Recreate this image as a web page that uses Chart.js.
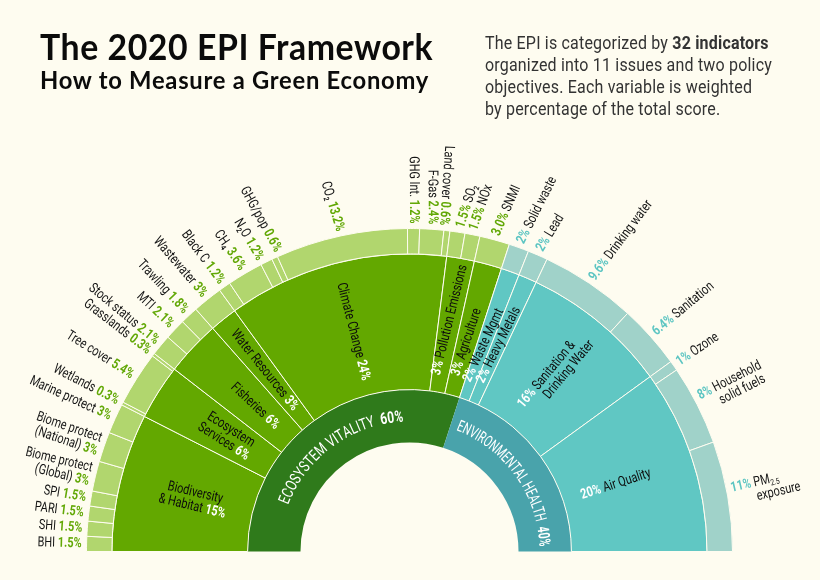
<!DOCTYPE html>
<html>
<head>
<meta charset="utf-8">
<script src="https://cdn.jsdelivr.net/npm/chart.js@4"></script>
<style>
    html, body { margin: 0; padding: 0; background: #fefcf0; }
    #page { position: relative; width: 820px; height: 580px; overflow: hidden; }
    canvas { position: absolute; left: 0; top: 0; }
    .head { position: absolute; white-space: nowrap; color: #0b0b0b; transform-origin: left top; }
    #title { left: 40px; top: 23px; font: 700 37px "Lato"; letter-spacing: 0.6px; transform: scaleX(0.914); }
    #subtitle { left: 40px; top: 65px; font: 700 24px "Lato"; letter-spacing: 0.75px; transform: scaleX(0.99); }
    #note { left: 485px; top: 32px; font: 400 17.5px/22px "Roboto"; color: #333; letter-spacing: 0.2px; transform: scaleX(0.915); }
    #note b { font-weight: 700; }
</style>
</head>
<body>
<div id="page">
    <canvas id="epi" width="820" height="580"></canvas>
    <div class="head" id="title">The 2020 EPI Framework</div>
    <div class="head" id="subtitle">How to Measure a Green Economy</div>
    <div class="head" id="note">The EPI is categorized by <b>32 indicators</b><br>organized into 11 issues and two policy<br>objectives. Each variable is weighted<br>by percentage of the total score.</div>
</div>
<script>
var pillars = ['ECOSYSTEM VITALITY', 'ENVIRONMENTAL HEALTH'];
var pillarValues = [60, 40];

var issues = ['Biodiversity\n& Habitat', 'Ecosystem\nServices', 'Fisheries', 'Water Resources', 'Climate Change',
    'Pollution Emissions', 'Agriculture', 'Waste Mgmt', 'Heavy Metals', 'Sanitation &\nDrinking Water', 'Air Quality'];
var issueValues = [15, 6, 6, 3, 24, 3, 3, 2, 2, 16, 20];

var indicators = ['BHI', 'SHI', 'PARI', 'SPI', 'Biome protect\n(Global)', 'Biome protect\n(National)', 'Marine protect',
    'Wetlands', 'Tree cover', 'Grasslands', 'Stock status', 'MTI', 'Trawling', 'Wastewater', 'Black C', 'CH₄', 'N₂O',
    'GHG/pop', 'CO₂', 'GHG Int.', 'F-Gas', 'Land cover', 'SO₂', 'NOx', 'SNMI', 'Solid waste', 'Lead', 'Drinking water',
    'Sanitation', 'Ozone', 'Household\nsolid fuels', 'PM_2.5\nexposure'];
var indicatorValues = [1.5, 1.5, 1.5, 1.5, 3, 3, 3, 0.3, 5.4, 0.3, 2.1, 2.1, 1.8, 3, 1.2, 3.6, 1.2, 0.6, 13.2, 1.2, 2.4,
    0.6, 1.5, 1.5, 3, 2, 2, 9.6, 6.4, 1, 8, 11];
var indicatorText = indicatorValues.map(function (v) { return v + '%'; });
indicatorText[24] = '3.0%';

// how many items of each ring belong to the first pillar
var greenIssues = 7;
var greenIndicators = 25;

// distance of the mid ring labels from the centre
var issueRadius = [222, 216, 212, 232, 227, 235, 217, 219, 225, 230, 217];

// the crowded labels are not quite radial in the original, degrees off the radius
var issueTurn = { 'Pollution Emissions': 4, 'Agriculture': 3, 'Waste Mgmt': 5, 'Heavy Metals': 3 };
var indicatorTurn = {
    'Wastewater': -2, 'Black C': -2, 'CH₄': -4, 'N₂O': -4, 'GHG/pop': -4, 'CO₂': -5, 'GHG Int.': -1, 'F-Gas': -4,
    'Land cover': -3, 'SO₂': 9, 'NOx': 8, 'SNMI': 8, 'Solid waste': 7, 'Lead': 8, 'Drinking water': 3, 'Sanitation': 2,
    'Ozone': 1, 'PM_2.5\nexposure': -3
};
// and these are pushed apart along the rim, degrees
var indicatorShift = { 'N₂O': -0.8, 'GHG/pop': 1, 'Land cover': -0.7, 'SO₂': 0.4 };

// no narrow font installed, so the text is squeezed sideways
var squeeze = 0.78;
var nameFont = '14px "Roboto"';
var valueFont = 'bold 14px "Roboto"';
var pillarFont = '16px "Roboto"';

function pick(green, teal, limit) {
    return function (c) { return c.dataIndex < limit ? green : teal; };
}

// a name like PM_2.5 gets a small lowered part
function pieces(text, color) {
    var parts = text.split('_');
    var res = [{ t: parts[0], font: nameFont, color: color, dy: 0 }];
    if (parts[1]) res.push({ t: parts[1], font: '8.5px "Roboto"', color: color, dy: 4 });
    return res;
}

function widthOf(ctx, line) {
    var w = 0;
    line.forEach(function (p) { ctx.font = p.font; w += ctx.measureText(p.t).width * squeeze; });
    return w;
}

function drawLine(ctx, line, x, y) {
    line.forEach(function (p) {
        ctx.font = p.font;
        ctx.fillStyle = p.color;
        ctx.save();
        ctx.translate(x, y + p.dy);
        ctx.scale(squeeze, 1);
        ctx.fillText(p.t, 0, 0);
        ctx.restore();
        x += ctx.measureText(p.t).width * squeeze;
    });
}

// text along a ring, top of the letters pointing away from the centre, fitted to a fixed length
function drawCurved(ctx, arc, parts, r, length) {
    var total = 0;
    parts.forEach(function (p) {
        ctx.font = p.font;
        total += ctx.measureText(p.t).width;
    });
    var fit = length / total;
    var a = (arc.startAngle + arc.endAngle) / 2 - length / 2 / r;
    ctx.textAlign = 'center';
    parts.forEach(function (p) {
        ctx.font = p.font;
        ctx.fillStyle = '#ffffff';
        for (var i = 0; i < p.t.length; i++) {
            var w = ctx.measureText(p.t[i]).width * fit;
            var m = a + w / 2 / r;
            ctx.save();
            ctx.translate(arc.x + Math.cos(m) * r, arc.y + Math.sin(m) * r);
            ctx.rotate(m + Math.PI / 2);
            ctx.scale(fit, 1);
            ctx.fillText(p.t[i], 0, 0);
            ctx.restore();
            a += w / r;
        }
    });
    ctx.textAlign = 'left';
}

// one label set on its arc, the value always ends up nearest the arc
function drawRadial(ctx, arc, text, value, nameColor, valueColor, r, centered, turn, shift) {
    var mid = (arc.startAngle + arc.endAngle) / 2;
    var fromLeft = (mid + Math.PI) * 180 / Math.PI;
    var flip = fromLeft < 98;
    var names = text.split('\n');
    var val = { t: value, font: valueFont, color: valueColor, dy: 0 };
    var space = { t: ' ', font: nameFont, color: nameColor, dy: 0 };
    var lh = 14;
    var lines = [];
    var i;
    var at = mid + (shift || 0) * Math.PI / 180;

    ctx.save();
    ctx.translate(arc.x + Math.cos(at) * r, arc.y + Math.sin(at) * r);
    ctx.rotate((flip ? mid + Math.PI : mid) + (turn || 0) * Math.PI / 180);
    ctx.textBaseline = 'middle';
    ctx.textAlign = 'left';

    if (flip) {
        // value at the end of the last line
        for (i = 0; i < names.length; i++) {
            var l = pieces(names[i], nameColor);
            if (i == names.length - 1) l = l.concat([space, val]);
            lines.push({ parts: l, indent: 0 });
        }
    } else {
        // value in front of the first line, next lines start under the name
        var vw = widthOf(ctx, [val, space]);
        for (i = 0; i < names.length; i++) {
            var n = pieces(names[i], nameColor);
            lines.push(i == 0 ? { parts: [val, space].concat(n), indent: 0 } : { parts: n, indent: vw });
        }
    }

    var maxW = 0;
    lines.forEach(function (l) { maxW = Math.max(maxW, l.indent + widthOf(ctx, l.parts)); });

    lines.forEach(function (l, j) {
        var w = l.indent + widthOf(ctx, l.parts);
        var y = (j - (lines.length - 1) / 2) * lh;
        var x;
        if (centered) {
            x = flip ? -w / 2 : -maxW / 2 + l.indent;
        } else {
            x = flip ? -w : l.indent;
        }
        drawLine(ctx, l.parts, x, y);
    });
    ctx.restore();
}

var ringLabels = {
    id: 'ringLabels',
    afterDatasetsDraw: function (chart) {
        var ctx = chart.ctx;
        var outer = chart.getDatasetMeta(0).data;
        var mid = chart.getDatasetMeta(1).data;
        var inner = chart.getDatasetMeta(2).data;

        outer.forEach(function (arc, i) {
            var c = i < greenIndicators ? '#62a806' : '#5cc5c2';
            drawRadial(ctx, arc, indicators[i], indicatorText[i], '#151515', c, arc.outerRadius + 5, false,
                indicatorTurn[indicators[i]], indicatorShift[indicators[i]]);
        });
        mid.forEach(function (arc, i) {
            drawRadial(ctx, arc, issues[i], issueValues[i] + '%', '#0c0c0c', '#ffffff', issueRadius[i], true, issueTurn[issues[i]]);
        });
        inner.forEach(function (arc, i) {
            ctx.save();
            ctx.textBaseline = 'alphabetic';
            drawCurved(ctx, arc, [
                { t: pillars[i] + '  ', font: pillarFont },
                { t: pillarValues[i] + '%', font: 'bold ' + pillarFont }
            ], 130, 150);
            ctx.restore();
        });
    }
};

var ctx = document.getElementById('epi').getContext('2d');
var myChart = new Chart(ctx, {
    type: 'doughnut',
    data: {
        labels: indicators,
        datasets: [
            {
                label: 'Indicators',
                data: indicatorValues,
                weight: 25.5,
                backgroundColor: pick('#b1d66e', '#a0d2c9', greenIndicators),
                borderColor: '#fefcf0',
                borderWidth: 1
            },
            {
                label: 'Issues',
                data: issueValues,
                weight: 136,
                backgroundColor: pick('#63a800', '#60c7c3', greenIssues),
                borderColor: '#fefcf0',
                borderWidth: 1
            },
            {
                label: 'Policy objectives',
                data: pillarValues,
                weight: 53,
                backgroundColor: ['#2f7a1b', '#49a3ab'],
                borderWidth: 0
            }
        ]
    },
    options: {
        responsive: false,
        animation: false,
        rotation: -90,
        circumference: 180,
        cutout: '33.75%',
        layout: { padding: { left: 86, right: 87, top: 228, bottom: 28 } },
        plugins: {
            legend: { display: false },
            tooltip: { enabled: false },
            title: { display: false }
        }
    },
    plugins: [ringLabels]
});
</script>
</body>
</html>
